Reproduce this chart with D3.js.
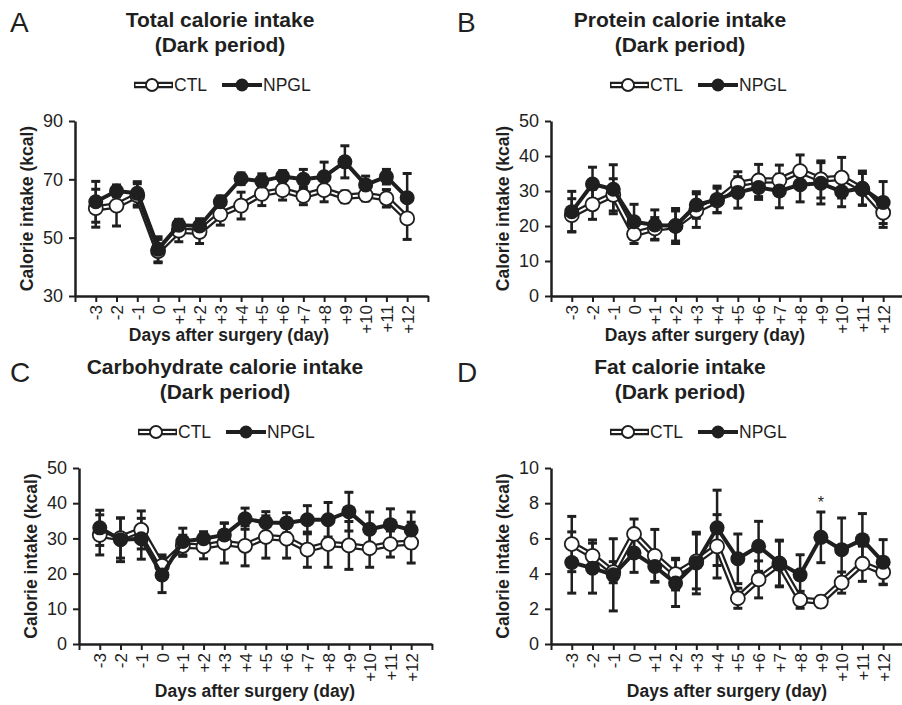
<!DOCTYPE html>
<html>
<head>
<meta charset="utf-8">
<script src="https://cdn.jsdelivr.net/npm/d3@7"></script>
<style>
  body { margin: 0; background: #fff; }
  svg text { font-family: "Liberation Sans", Arial, sans-serif; fill: #1f1f1f; }
</style>
</head>
<body>
<svg id="fig" width="902" height="705"></svg>
<script>
// --- Data ----------------------------------------------------
const days = ["-3", "-2", "-1", "0", "+1", "+2", "+3", "+4", "+5", "+6",
              "+7", "+8", "+9", "+10", "+11", "+12"];

// Total calorie intake
const totalCTL     = [60.1, 61.0, 64.5, 45.4, 52.4, 52.0, 58.0, 61.0, 65.0, 66.3, 64.3, 66.3, 64.0, 64.6, 63.5, 56.6];
const totalCTLErr  = [6.5, 7.0, 4.0, 4.0, 3.8, 4.0, 3.7, 4.6, 4.0, 3.4, 3.0, 4.0, 2.0, 2.0, 3.0, 7.2];
const totalNPGL    = [62.3, 66.0, 65.2, 46.0, 54.3, 54.0, 62.3, 70.2, 69.4, 71.0, 70.0, 70.9, 76.0, 68.1, 70.9, 63.7];
const totalNPGLErr = [7.0, 2.0, 4.0, 4.3, 2.0, 2.5, 2.0, 2.0, 2.5, 2.0, 3.4, 5.0, 5.5, 3.0, 2.5, 8.3];

// Protein calorie intake
const protCTL     = [23.1, 26.2, 28.9, 17.7, 19.3, 20.0, 24.4, 27.3, 32.0, 33.0, 33.1, 35.7, 33.3, 33.8, 30.5, 23.8];
const protCTLErr  = [4.7, 4.3, 4.6, 2.7, 3.1, 4.3, 4.8, 3.5, 3.5, 4.6, 4.3, 4.6, 5.3, 5.8, 4.5, 4.2];
const protNPGL    = [24.1, 32.0, 30.5, 21.2, 20.3, 20.0, 26.0, 27.6, 29.6, 31.0, 30.0, 31.8, 32.2, 29.8, 30.8, 26.7];
const protNPGLErr = [5.8, 4.8, 7.0, 5.0, 4.3, 5.0, 3.8, 3.8, 4.5, 3.4, 4.8, 4.9, 5.9, 4.3, 4.9, 6.0];

// Carbohydrate calorie intake
const carbCTL     = [31.0, 30.1, 32.4, 22.2, 27.9, 27.7, 28.7, 27.9, 30.4, 29.9, 26.8, 28.4, 28.0, 27.2, 28.4, 28.8];
const carbCTLErr  = [5.7, 5.7, 5.4, 3.1, 3.0, 3.5, 5.7, 5.7, 6.0, 5.5, 5.0, 6.6, 6.8, 5.4, 3.7, 5.8];
const carbNPGL    = [33.0, 29.6, 29.9, 19.6, 29.1, 29.9, 31.0, 35.6, 34.5, 34.4, 35.3, 35.3, 37.6, 32.6, 33.9, 32.4];
const carbNPGLErr = [5.0, 6.2, 5.8, 5.0, 3.8, 2.0, 3.3, 3.0, 3.1, 2.9, 4.0, 4.9, 5.5, 4.9, 4.5, 5.1];

// Fat calorie intake
const fatCTL     = [5.68, 5.01, 4.08, 6.25, 5.01, 3.97, 4.69, 5.55, 2.60, 3.67, 4.55, 2.51, 2.41, 3.49, 4.56, 4.08];
const fatCTLErr  = [1.57, 0.90, 0.60, 0.85, 1.50, 0.90, 1.56, 1.80, 0.57, 1.05, 1.30, 0.48, 0.30, 0.60, 1.00, 0.68];
const fatNPGL    = [4.63, 4.31, 3.93, 5.17, 4.40, 3.46, 4.60, 6.60, 4.84, 5.55, 4.60, 3.93, 6.06, 5.36, 5.93, 4.65];
const fatNPGLErr = [1.74, 1.42, 2.05, 1.10, 0.85, 1.33, 1.75, 2.14, 1.41, 1.42, 1.30, 1.14, 1.44, 1.80, 1.48, 1.28];
const fatStars   = [12]; // index of "+9"

const panels = [
  {letter: "A", title: "Total calorie intake", yDomain: [30, 90], yTicks: [30, 50, 70, 90],
   ctl: totalCTL, ctlErr: totalCTLErr, npgl: totalNPGL, npglErr: totalNPGLErr, stars: []},
  {letter: "B", title: "Protein calorie intake", yDomain: [0, 50], yTicks: [0, 10, 20, 30, 40, 50],
   ctl: protCTL, ctlErr: protCTLErr, npgl: protNPGL, npglErr: protNPGLErr, stars: []},
  {letter: "C", title: "Carbohydrate calorie intake", yDomain: [0, 50], yTicks: [0, 10, 20, 30, 40, 50],
   ctl: carbCTL, ctlErr: carbCTLErr, npgl: carbNPGL, npglErr: carbNPGLErr, stars: []},
  {letter: "D", title: "Fat calorie intake", yDomain: [0, 10], yTicks: [0, 2, 4, 6, 8, 10],
   ctl: fatCTL, ctlErr: fatCTLErr, npgl: fatNPGL, npglErr: fatNPGLErr, stars: fatStars}
];

// --- Layout (pixel positions of each panel) ------------------
const step = 20.76;
const layout = [
  {left: 75,  top: 121, bottom: 296, letterX: 10,  letterY: 32,  titleX: 220, xTitleX: 229, xTitleY: 341},
  {left: 551, top: 121, bottom: 296, letterX: 457, letterY: 32,  titleX: 680, xTitleX: 705, xTitleY: 341},
  {left: 79,  top: 468, bottom: 644, letterX: 10,  letterY: 382, titleX: 225, xTitleX: 255, xTitleY: 697},
  {left: 551, top: 468, bottom: 644, letterX: 457, letterY: 382, titleX: 680, xTitleX: 727, xTitleY: 697}
];

const ink = "#1f1f1f";
const svg = d3.select("#fig");

function errorBars(g, x, y, vals, errs) {
  const eb = g.append("g").attr("stroke", ink).attr("stroke-width", 2.5);
  vals.forEach((v, i) => {
    const cx = x(i), y0 = y(v - errs[i]), y1 = y(v + errs[i]);
    eb.append("line").attr("x1", cx).attr("x2", cx).attr("y1", y0).attr("y2", y1);
    eb.append("line").attr("x1", cx - 4.5).attr("x2", cx + 4.5).attr("y1", y0).attr("y2", y0).attr("stroke-width", 3);
    eb.append("line").attr("x1", cx - 4.5).attr("x2", cx + 4.5).attr("y1", y1).attr("y2", y1).attr("stroke-width", 3);
  });
}

function drawPanel(p, L) {
  const n = days.length;
  const x = d3.scaleLinear().domain([-1, n]).range([L.left, L.left + (n + 1) * step]);
  const y = d3.scaleLinear().domain(p.yDomain).range([L.bottom, L.top]);
  const g = svg.append("g");

  // panel letter
  g.append("text").attr("x", L.letterX).attr("y", L.letterY)
    .style("font-size", "28px").text(p.letter);

  // title
  g.append("text").attr("x", L.titleX).attr("y", L.top - 94).attr("text-anchor", "middle")
    .style("font-size", "21px").style("font-weight", "bold").text(p.title);
  g.append("text").attr("x", L.titleX).attr("y", L.top - 69).attr("text-anchor", "middle")
    .style("font-size", "21px").style("font-weight", "bold").text("(Dark period)");

  // legend
  const lg = g.append("g").attr("transform", `translate(${L.left + 59},${L.top - 36})`);
  lg.append("line").attr("x1", 0).attr("x2", 39).attr("stroke", ink).attr("stroke-width", 6.5);
  lg.append("line").attr("x1", 1.5).attr("x2", 37.5).attr("stroke", "#fff").attr("stroke-width", 2);
  lg.append("circle").attr("cx", 18).attr("r", 6).attr("fill", "#fff").attr("stroke", ink).attr("stroke-width", 1.8);
  lg.append("text").attr("x", 40).attr("dy", "0.36em").style("font-size", "17.5px").text("CTL");
  lg.append("line").attr("x1", 88).attr("x2", 128).attr("stroke", ink).attr("stroke-width", 4);
  lg.append("circle").attr("cx", 108).attr("r", 6.5).attr("fill", ink);
  lg.append("text").attr("x", 129).attr("dy", "0.36em").style("font-size", "17.5px").text("NPGL");

  // axes
  const ya = g.append("g").attr("transform", `translate(${L.left},0)`)
    .call(d3.axisLeft(y).tickValues(p.yTicks).tickSize(6).tickSizeOuter(0).tickPadding(6));
  const xa = g.append("g").attr("transform", `translate(0,${L.bottom})`)
    .call(d3.axisBottom(x).tickValues(d3.range(-1, n + 1))
      .tickFormat(i => days[i] ?? "").tickSize(6).tickSizeOuter(0));
  [ya, xa].forEach(a => {
    a.select(".domain").attr("stroke", ink).attr("stroke-width", 2.5);
    a.selectAll(".tick line").attr("stroke", ink).attr("stroke-width", 2);
    a.selectAll("text").style("font-size", "18px").attr("fill", ink);
  });
  xa.selectAll(".tick text")
    .attr("transform", "rotate(-90)")
    .attr("text-anchor", "end")
    .attr("x", -9).attr("y", 0).attr("dy", "0.36em")
    .style("font-size", "17px");

  // axis titles
  g.append("text")
    .attr("transform", `translate(${L.left - 48},${(L.top + L.bottom) / 2}) rotate(-90)`)
    .attr("text-anchor", "middle").attr("dy", "0.36em")
    .style("font-size", "17.5px").style("font-weight", "bold")
    .text("Calorie intake (kcal)");
  g.append("text").attr("x", L.xTitleX).attr("y", L.xTitleY).attr("text-anchor", "middle")
    .style("font-size", "17.5px").style("font-weight", "bold")
    .text("Days after surgery (day)");

  // error bars
  errorBars(g, x, y, p.ctl, p.ctlErr);
  errorBars(g, x, y, p.npgl, p.npglErr);

  const line = d3.line().x((d, i) => x(i)).y(d => y(d));

  // CTL: double (outlined) line with open circles
  g.append("path").attr("d", line(p.ctl)).attr("fill", "none")
    .attr("stroke", ink).attr("stroke-width", 6.5).attr("stroke-linejoin", "round");
  g.append("path").attr("d", line(p.ctl)).attr("fill", "none")
    .attr("stroke", "#fff").attr("stroke-width", 2).attr("stroke-linejoin", "round");
  g.append("g").selectAll("circle").data(p.ctl).join("circle")
    .attr("cx", (d, i) => x(i)).attr("cy", d => y(d)).attr("r", 7)
    .attr("fill", "#fff").attr("stroke", ink).attr("stroke-width", 1.8);

  // NPGL: solid line with filled circles
  g.append("path").attr("d", line(p.npgl)).attr("fill", "none")
    .attr("stroke", ink).attr("stroke-width", 4).attr("stroke-linejoin", "round");
  g.append("g").selectAll("circle").data(p.npgl).join("circle")
    .attr("cx", (d, i) => x(i)).attr("cy", d => y(d)).attr("r", 7.5)
    .attr("fill", ink);

  // significance marks
  p.stars.forEach(i => {
    g.append("text").attr("x", x(i)).attr("y", y(p.npgl[i] + p.npglErr[i]) - 4)
      .attr("text-anchor", "middle").style("font-size", "16px").text("*");
  });
}

panels.forEach((p, k) => drawPanel(p, layout[k]));
</script>
</body>
</html>
